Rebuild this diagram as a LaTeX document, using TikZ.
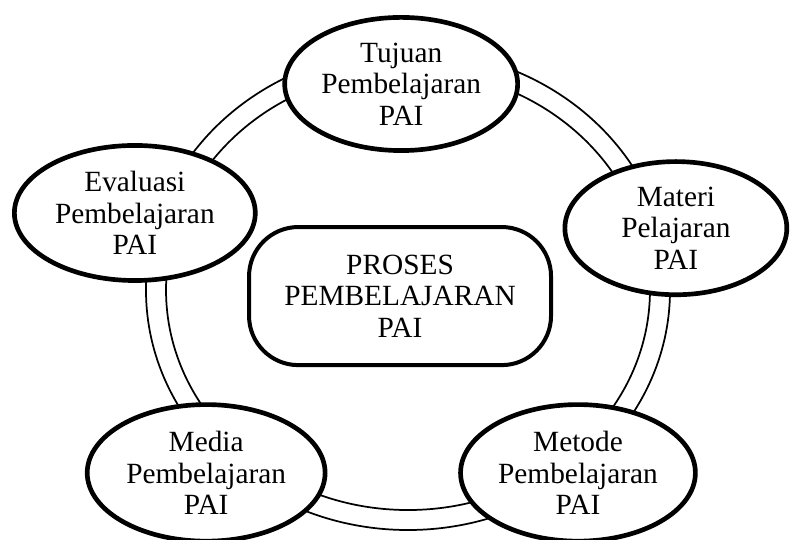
\documentclass[tikz,border=0pt]{standalone}
\usepackage{fontspec}
\setmainfont{Liberation Serif}
\usepackage{tikz}
\usetikzlibrary{shapes.geometric, positioning}

\begin{document}
\begin{tikzpicture}[
		komponen/.style={ellipse, draw, line width=3.5pt, fill=white, align=center, inner sep=0pt, font=\fontsize{22}{23.5}\selectfont},
		proses/.style={rectangle, rounded corners=1.3cm, draw, line width=3pt, fill=white, align=center, minimum width=7.96cm, minimum height=3.64cm, font=\fontsize{22}{23.5}\selectfont}
	]
		\useasboundingbox (-10.754,-6.589) rectangle (10.095,7.644);
		
		\draw[line width=1.3pt] (0,0) ellipse (6.906 and 6.326);
		\draw[line width=1.3pt] (0,0) ellipse (6.378 and 5.799);
		
		\node[komponen, minimum width=6.14cm, minimum height=3.51cm] (tujuan) at (-0.18,5.43) {Tujuan\\Pembelajaran\\PAI};
		\node[komponen, minimum width=5.85cm, minimum height=3.51cm] (materi) at (7.06,1.63) {Materi\\Pelajaran\\PAI};
		\node[komponen, minimum width=6.19cm, minimum height=3.6cm] (metode) at (4.48,-4.82) {Metode\\Pembelajaran\\PAI};
		\node[komponen, minimum width=6.27cm, minimum height=3.6cm] (media) at (-5.32,-4.82) {Media\\Pembelajaran\\PAI};
		\node[komponen, minimum width=6.35cm, minimum height=3.56cm] (evaluasi) at (-7.20,2.03) {Evaluasi\\Pembelajaran\\PAI};
		
		\node[proses] (pusat) at (-0.21,-0.16) {PROSES\\PEMBELAJARAN\\PAI};

	\end{tikzpicture}
\end{document}
